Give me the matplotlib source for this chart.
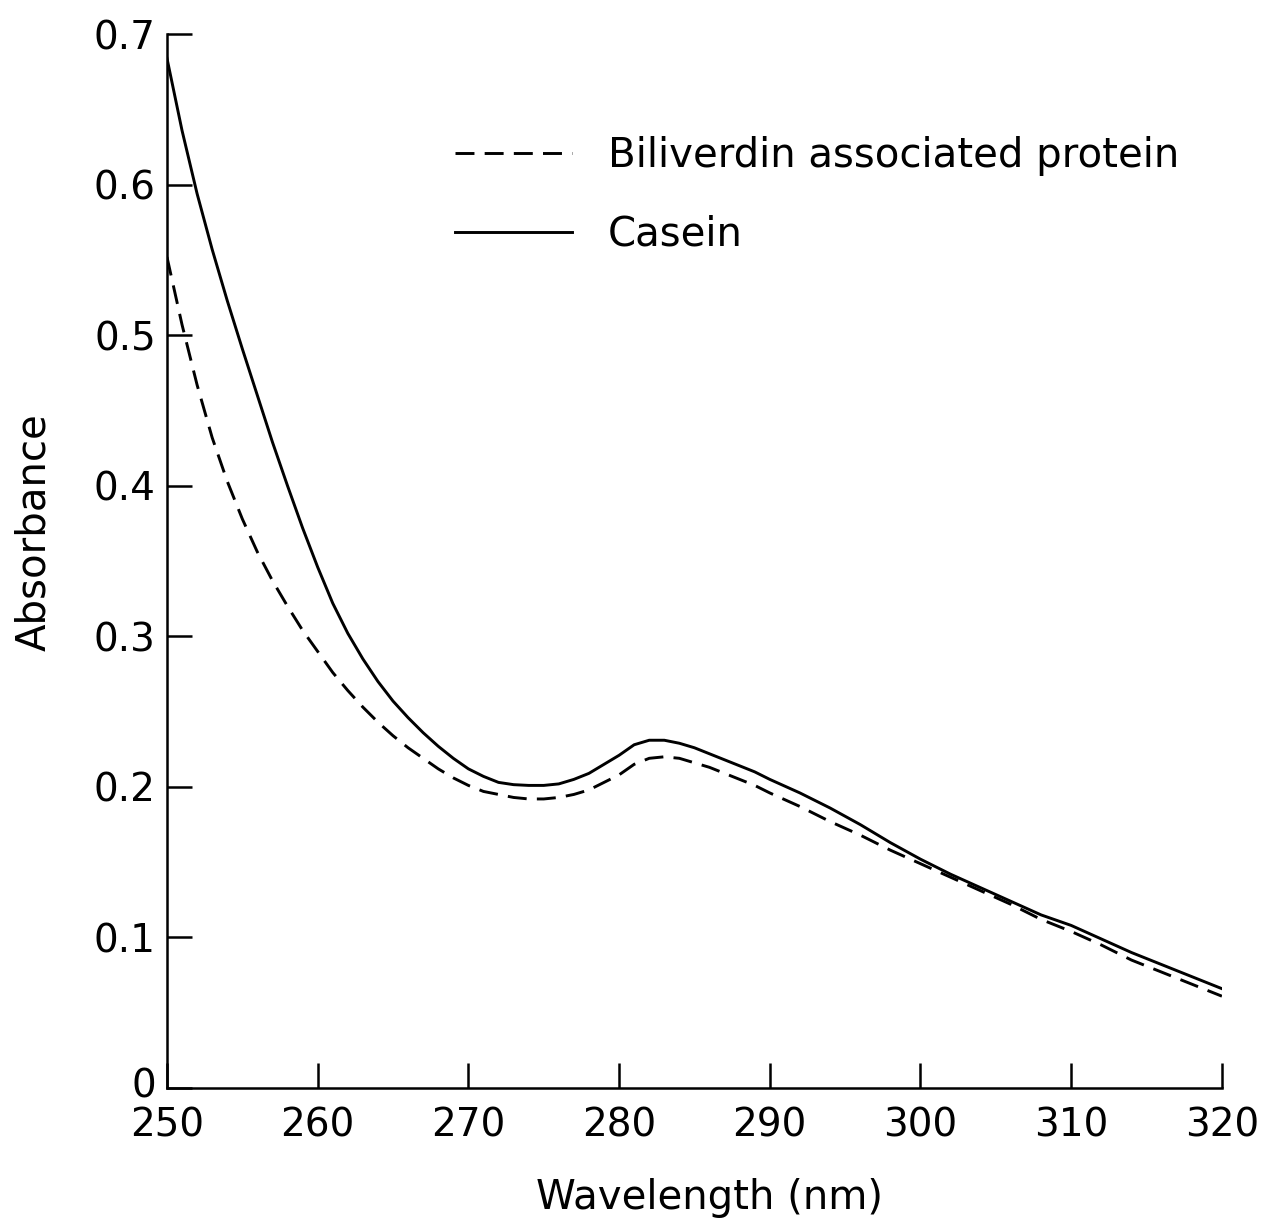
import matplotlib
matplotlib.use("Agg")
import matplotlib.pyplot as plt
import matplotlib.transforms as mtransforms

# Wavelength (nm)
wl = [250, 251, 252, 253, 254, 255, 256, 257, 258, 259, 260, 261, 262, 263, 264,
      265, 266, 267, 268, 269, 270, 271, 272, 273, 274, 275, 276, 277, 278, 279,
      280, 281, 282, 283, 284, 285, 286, 287, 288, 289, 290, 292, 294, 296, 298,
      300, 302, 304, 306, 308, 310, 312, 314, 316, 318, 320]

# Casein absorbance (solid)
casein = [0.684, 0.636, 0.594, 0.557, 0.523, 0.491, 0.460, 0.429, 0.400, 0.372,
          0.346, 0.322, 0.302, 0.285, 0.270, 0.257, 0.246, 0.236, 0.227, 0.219,
          0.212, 0.207, 0.203, 0.2015, 0.201, 0.201, 0.202, 0.205, 0.209, 0.215,
          0.221, 0.228, 0.231, 0.231, 0.229, 0.226, 0.222, 0.218, 0.214, 0.210,
          0.205, 0.196, 0.186, 0.175, 0.163, 0.152, 0.142, 0.133, 0.124, 0.115,
          0.108, 0.099, 0.090, 0.082, 0.074, 0.066]

# Biliverdin associated protein absorbance (dashed)
biliverdin = [0.552, 0.507, 0.467, 0.432, 0.403, 0.378, 0.356, 0.337, 0.320, 0.304,
              0.290, 0.276, 0.264, 0.253, 0.243, 0.234, 0.226, 0.219, 0.212, 0.206,
              0.201, 0.197, 0.195, 0.193, 0.192, 0.192, 0.193, 0.195, 0.198, 0.203,
              0.208, 0.215, 0.219, 0.220, 0.219, 0.216, 0.213, 0.209, 0.205, 0.201,
              0.196, 0.187, 0.177, 0.168, 0.158, 0.149, 0.140, 0.131, 0.122, 0.112,
              0.104, 0.095, 0.085, 0.077, 0.069, 0.061]

xticks = [250, 260, 270, 280, 290, 300, 310, 320]
yticks = [0, 0.1, 0.2, 0.3, 0.4, 0.5, 0.6, 0.7]
ytick_labels = ['0', '0.1', '0.2', '0.3', '0.4', '0.5', '0.6', '0.7']

plt.rcParams['font.family'] = ['DejaVu Sans']

fig = plt.figure(figsize=(12.61, 12.18), dpi=100)
ax = fig.add_axes([0.1324, 0.1067, 0.8366, 0.8653])

ax.plot(wl, biliverdin, color='black', lw=2.1, linestyle=(0, (6.5, 3.5)),
        label='Biliverdin associated protein')
ax.plot(wl, casein, color='black', lw=2.1, label='Casein')

ax.set_xlim(250, 320)
ax.set_ylim(0, 0.7)
ax.set_xticks(xticks)
ax.set_yticks(yticks)
ax.set_yticklabels(ytick_labels)

for side in ['top', 'right']:
    ax.spines[side].set_visible(False)
for side in ['left', 'bottom']:
    ax.spines[side].set_linewidth(1.8)

ax.tick_params(axis='both', direction='in', length=18, width=1.8, labelsize=28)
ax.tick_params(axis='x', pad=13)
ax.tick_params(axis='y', pad=8)

# lift the "0" label a little so it sits above "250" as in the original
zero_lbl = ax.get_yticklabels()[0]
zero_lbl.set_transform(zero_lbl.get_transform() +
                       mtransforms.ScaledTranslation(0, 4 / 72, fig.dpi_scale_trans))

ax.set_xlabel('Wavelength (nm)', fontsize=29)
ax.set_ylabel('Absorbance', fontsize=29)
ax.xaxis.set_label_coords(0.514, -0.085)
ax.yaxis.set_label_coords(-0.107, 0.527)

ax.legend(loc='upper left', bbox_to_anchor=(0.273, 0.903), frameon=False,
          fontsize=29, handlelength=2.9, handletextpad=0.9, labelspacing=0.95,
          borderpad=0, borderaxespad=0)

fig.savefig('out.png', dpi=100)
